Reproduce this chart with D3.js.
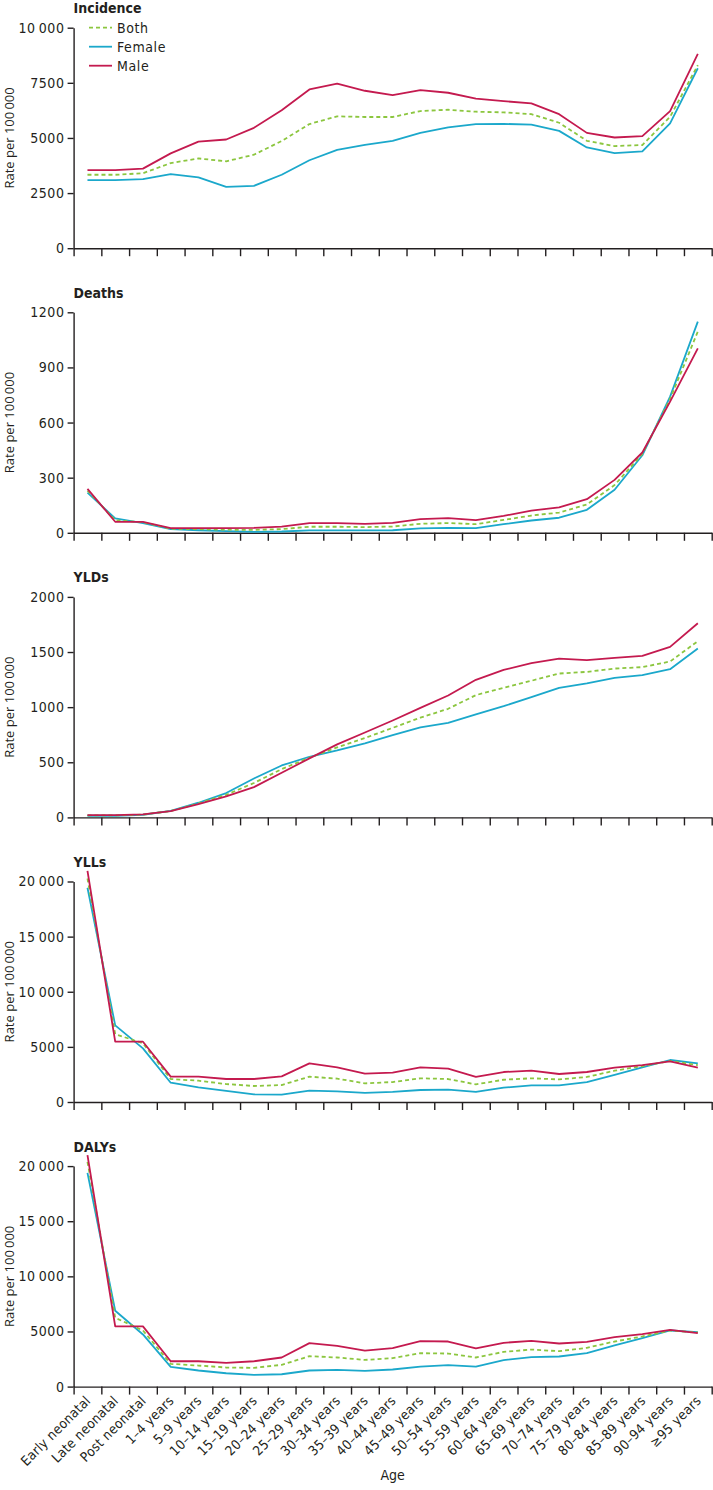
<!DOCTYPE html>
<html>
<head>
<meta charset="utf-8">
<script src="https://cdn.jsdelivr.net/npm/d3@7"></script>
<style>
  html, body { margin: 0; padding: 0; background: #fff; }
  svg { display: block; }
</style>
</head>
<body>
<svg id="chart" width="713" height="1490"></svg>
<script>
const categories = ["Early neonatal", "Late neonatal", "Post neonatal", "1–4 years", "5–9 years",
  "10–14 years", "15–19 years", "20–24 years", "25–29 years", "30–34 years", "35–39 years",
  "40–44 years", "45–49 years", "50–54 years", "55–59 years", "60–64 years", "65–69 years",
  "70–74 years", "75–79 years", "80–84 years", "85–89 years", "90–94 years", "≥95 years"];

const seriesNames = ["Both", "Female", "Male"];

const incidenceBoth   = [3330, 3330, 3400, 3860, 4070, 3940, 4240, 4860, 5630, 5980, 5950, 5950, 6220, 6280, 6190, 6160, 6080, 5690, 4870, 4630, 4680, 5960, 8300];
const incidenceFemale = [3090, 3090, 3130, 3360, 3210, 2780, 2830, 3330, 3990, 4460, 4690, 4870, 5230, 5480, 5630, 5640, 5600, 5320, 4570, 4310, 4390, 5660, 8160];
const incidenceMale   = [3540, 3540, 3610, 4300, 4830, 4930, 5460, 6260, 7200, 7460, 7140, 6940, 7170, 7050, 6780, 6670, 6570, 6080, 5230, 5020, 5080, 6220, 8810];

const deathsBoth   = [230, 68, 57, 22, 20, 17, 16, 20, 33, 33, 31, 34, 49, 53, 47, 70, 94, 110, 154, 260, 430, 728, 1095];
const deathsFemale = [219, 78, 53, 20, 14, 9, 5, 7, 13, 13, 13, 14, 24, 27, 25, 47, 67, 82, 125, 234, 422, 741, 1149];
const deathsMale   = [239, 60, 60, 25, 25, 25, 27, 34, 53, 53, 49, 54, 74, 80, 69, 92, 121, 138, 183, 288, 437, 714, 1004];

const yldsBoth   = [18, 18, 25, 58, 127, 205, 312, 438, 542, 635, 720, 812, 905, 985, 1109, 1175, 1239, 1305, 1320, 1350, 1363, 1414, 1598];
const yldsFemale = [15, 15, 24, 60, 133, 221, 353, 471, 550, 607, 671, 746, 816, 858, 934, 1009, 1091, 1175, 1215, 1266, 1290, 1344, 1532];
const yldsMale   = [21, 21, 27, 57, 121, 190, 275, 405, 535, 662, 770, 879, 994, 1106, 1248, 1338, 1399, 1441, 1426, 1447, 1465, 1547, 1761];

const yllsBoth   = [20270, 6160, 5320, 2085, 1930, 1630, 1450, 1540, 2300, 2120, 1690, 1810, 2150, 2085, 1600, 2020, 2150, 2050, 2270, 2840, 3260, 3720, 3350];
const yllsFemale = [19430, 6950, 4860, 1750, 1330, 1000, 700, 670, 1030, 970, 820, 910, 1090, 1120, 910, 1300, 1510, 1510, 1810, 2450, 3140, 3810, 3500];
const yllsMale   = [20970, 5470, 5470, 2300, 2300, 2085, 2085, 2330, 3505, 3140, 2570, 2660, 3140, 3020, 2270, 2720, 2840, 2540, 2720, 3110, 3350, 3690, 3110];

const dalysBoth   = [20390, 6240, 5090, 2060, 1910, 1730, 1700, 1970, 2760, 2640, 2420, 2580, 3030, 3000, 2640, 3150, 3360, 3210, 3520, 4090, 4550, 5090, 4910];
const dalysFemale = [19390, 6880, 4730, 1790, 1460, 1210, 1060, 1120, 1460, 1520, 1420, 1550, 1820, 1940, 1820, 2400, 2670, 2730, 3030, 3730, 4390, 5090, 4940];
const dalysMale   = [21000, 5460, 5460, 2300, 2300, 2150, 2300, 2640, 3940, 3700, 3270, 3490, 4120, 4090, 3460, 3970, 4150, 3910, 4060, 4490, 4760, 5150, 4850];

const panelTitles = ["Incidence", "Deaths", "YLDs", "YLLs", "DALYs"];
const incidenceTicks = [0, 2500, 5000, 7500, 10000];
const deathsTicks = [0, 300, 600, 900, 1200];
const yldsTicks = [0, 500, 1000, 1500, 2000];
const yllsTicks = [0, 5000, 10000, 15000, 20000];
const dalysTicks = [0, 5000, 10000, 15000, 20000];

const colors = { Both: "#8cc63f", Female: "#1ba8cb", Male: "#c41a4f" };

const panels = [
  { title: panelTitles[0], ticks: incidenceTicks, data: [incidenceBoth, incidenceFemale, incidenceMale] },
  { title: panelTitles[1], ticks: deathsTicks, data: [deathsBoth, deathsFemale, deathsMale] },
  { title: panelTitles[2], ticks: yldsTicks, data: [yldsBoth, yldsFemale, yldsMale] },
  { title: panelTitles[3], ticks: yllsTicks, data: [yllsBoth, yllsFemale, yllsMale] },
  { title: panelTitles[4], ticks: dalysTicks, data: [dalysBoth, dalysFemale, dalysMale] }
];

const svg = d3.select("#chart");
const narrow = "'Liberation Sans Narrow', 'DejaVu Sans Condensed', 'Liberation Sans', sans-serif";
const textColor = "#231f20";

const left = 73.6, right = 711.7;
const firstTop = 27.7, panelStep = 284.6, plotH = 220.5;

const x = d3.scaleBand().domain(categories).range([left, right]).paddingInner(0).paddingOuter(0);
const xb = d3.scaleLinear().domain([0, categories.length]).range([left, right]);

const fmt = v => {
  if (v >= 10000) { const s = String(v); return s.slice(0, s.length - 3) + "\u2009" + s.slice(-3); }
  return String(v);
};

panels.forEach((p, k) => {
  const top = firstTop + panelStep * k;
  const bottom = top + plotH;
  const maxV = p.ticks[p.ticks.length - 1];
  const y = d3.scaleLinear().domain([0, maxV]).range([bottom, top]);
  const g = svg.append("g");

  // title
  g.append("text").attr("x", left).attr("y", top - 14.5)
    .attr("font-family", narrow).attr("font-weight", "bold").attr("font-size", 14)
    .attr("fill", textColor).text(p.title);

  // y axis
  const ya = g.append("g").attr("transform", `translate(${left},0)`)
    .call(d3.axisLeft(y).tickValues(p.ticks).tickFormat(fmt).tickSize(6).tickSizeOuter(0).tickPadding(3));
  ya.selectAll("path, line").attr("stroke", textColor).attr("stroke-width", 1.4);
  ya.selectAll("text").attr("font-family", narrow).attr("font-size", 14)
    .attr("letter-spacing", 0.6).attr("fill", textColor);

  // x axis (ticks at band boundaries)
  const xa = g.append("g").attr("transform", `translate(0,${bottom})`)
    .call(d3.axisBottom(xb).tickValues(d3.range(categories.length + 1)).tickFormat("").tickSize(8).tickSizeOuter(0));
  xa.selectAll("path, line").attr("stroke", textColor).attr("stroke-width", 1.4);

  // y label
  g.append("text")
    .attr("transform", `translate(14,${(top + bottom) / 2}) rotate(-90)`)
    .attr("text-anchor", "middle")
    .attr("font-family", "'Open Sans', 'DejaVu Sans', sans-serif").attr("font-size", 13)
    .attr("fill", textColor).text("Rate per 100\u2009000");

  // lines (draw Both, Female, Male)
  const line = d3.line().x((d, i) => x(categories[i]) + x.bandwidth() / 2).y(d => y(d));
  [1, 0, 2].forEach(si => {
    const name = seriesNames[si];
    g.append("path").datum(p.data[si])
      .attr("d", line).attr("fill", "none")
      .attr("stroke", colors[name]).attr("stroke-width", 1.8)
      .attr("stroke-linejoin", "round")
      .attr("stroke-dasharray", name === "Both" ? "4,3" : null);
  });

  // legend in first panel
  if (k === 0) {
    const lg = g.append("g");
    seriesNames.forEach((name, i) => {
      const ly = 27.7 + i * 19;
      lg.append("line").attr("x1", 89).attr("x2", 112).attr("y1", ly).attr("y2", ly)
        .attr("stroke", colors[name]).attr("stroke-width", 1.8)
        .attr("stroke-dasharray", name === "Both" ? "4,3" : null);
      lg.append("text").attr("x", 117).attr("y", ly).attr("dy", "0.35em")
        .attr("font-family", narrow).attr("font-size", 14).attr("letter-spacing", 0.6)
        .attr("fill", textColor).text(name);
    });
  }

  // category labels on last panel
  if (k === panels.length - 1) {
    const la = g.append("g").attr("transform", `translate(0,${bottom})`)
      .call(d3.axisBottom(x).tickSize(0).tickPadding(0));
    la.select(".domain").remove();
    la.selectAll("text")
      .attr("font-family", narrow).attr("font-size", 13.5).attr("letter-spacing", 0.3)
      .attr("fill", textColor)
      .attr("text-anchor", "end")
      .attr("dy", null).attr("y", null)
      .attr("transform", "translate(4,15) rotate(-45)");
    g.append("text").attr("x", (left + right) / 2).attr("y", 1480)
      .attr("text-anchor", "middle").attr("font-family", narrow).attr("font-size", 14)
      .attr("fill", textColor).text("Age");
  }
});
</script>
</body>
</html>
